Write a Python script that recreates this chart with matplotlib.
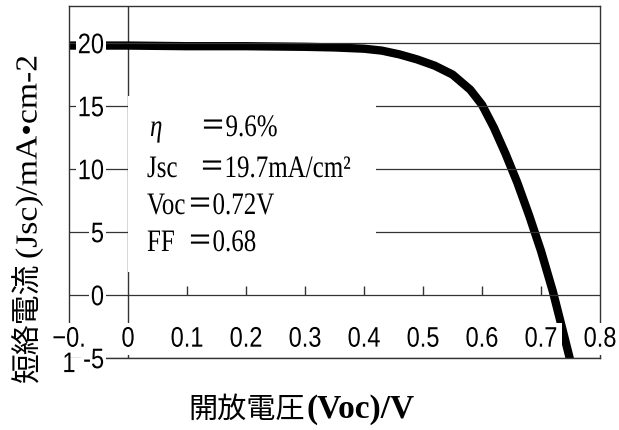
import matplotlib
matplotlib.use("Agg")
import matplotlib.pyplot as plt
from matplotlib import font_manager as fm
from matplotlib.patches import Rectangle
from matplotlib.patheffects import AbstractPathEffect
from matplotlib.transforms import Affine2D

# ---------------- data ----------------
voltage = [-0.10, 0.00, 0.10, 0.20, 0.30, 0.35, 0.40, 0.43, 0.46, 0.49, 0.52,
           0.55, 0.58, 0.60, 0.62, 0.64, 0.66, 0.68, 0.70, 0.72, 0.74, 0.755]
current = [19.8, 19.8, 19.75, 19.75, 19.7, 19.65, 19.55, 19.4, 19.1, 18.7, 18.2,
           17.5, 16.3, 15.1, 13.3, 11.2, 8.9, 6.3, 3.5, 0.3, -3.4, -6.2]

xticks = [-0.1, 0.0, 0.1, 0.2, 0.3, 0.4, 0.5, 0.6, 0.7, 0.8]
xtick_labels = ["\u22120.\n1", "0", "0.1", "0.2", "0.3", "0.4", "0.5", "0.6", "0.7", "0.8"]
yticks = [-5, 0, 5, 10, 15, 20]
ytick_labels = ["-5", "0", "5", "10", "15", "20"]

param_names = ["\u03b7", "Jsc", "Voc", "FF"]
param_values = ["\uff1d9.6%", "\uff1d19.7mA/cm\u00b2", "\uff1d0.72V", "\uff1d0.68"]

xlabel_jp = "開放電圧"
xlabel_en = "(Voc)/V"
ylabel_jp = "短絡電流"
ylabel_en = "(Jsc)/mA\u2022cm-2"


# ---------------- helpers ----------------
class Stretch(AbstractPathEffect):
    """Scale glyphs in their own text space (sx along text, sy across),
    about the glyph-space height cy (font units, 100 per em)."""
    def __init__(self, sx=1.0, sy=1.0, cy=0.0):
        super().__init__()
        self._t = Affine2D().translate(0, -cy).scale(sx, sy).translate(0, cy)

    def draw_path(self, renderer, gc, tpath, affine, rgbFace=None):
        renderer.draw_path(gc, tpath, self._t + affine, rgbFace)


_names = {f.name for f in fm.fontManager.ttflist}
if "Liberation Sans Narrow" in _names:
    tick_family, tick_size, tick_sy = "Liberation Sans Narrow", 20, 1.0
else:
    tick_family, tick_size, tick_sy = "Liberation Sans", 17, 1.2

W, H = 619, 431
def P(x, y):
    return (x / W, 1 - y / H)

GC = "#333333"

fig = plt.figure(figsize=(W / 100, H / 100), dpi=100)
L, R, T, B = 69, 600, 7, 359
ax = fig.add_axes([L / W, 1 - B / H, (R - L) / W, (B - T) / H])
ax.set_xlim(-0.1, 0.8)
ax.set_ylim(-5, 22.94)
ax.set_axisbelow(False)

for s in ax.spines.values():
    s.set_color(GC)
    s.set_linewidth(1.0)

ax.set_xticks(xticks, xtick_labels, fontfamily=[tick_family, "DejaVu Sans"],
              fontsize=tick_size)
ax.set_yticks(yticks, ytick_labels, fontfamily=[tick_family, "DejaVu Sans"],
              fontsize=tick_size)
ax.tick_params(axis="x", length=0, pad=-21.6, colors="black")
ax.tick_params(axis="y", length=0, pad=-25.2, colors="black")
ax.yaxis.grid(True, color=GC, linewidth=0.9)
ax.xaxis.grid(False)

tick_fx = [Stretch(1.0, tick_sy, 35.8)]
for lbl in ax.get_xticklabels():
    lbl.set_bbox(dict(facecolor="white", edgecolor="none", pad=3.5))
    lbl.set_path_effects(tick_fx)
for lbl in ax.get_yticklabels():
    lbl.set_bbox(dict(facecolor="white", edgecolor="none", pad=1.5))
    lbl.set_path_effects(tick_fx)

# y axis through x = 0 and small ticks on the y = 0 line
ax.axvline(0, color=GC, linewidth=1.0, zorder=2)
ax.vlines(xticks[2:-1], 0, 0.7, color=GC, linewidth=1.0, zorder=2)

# J-V curve
ax.plot(voltage, current, color="black", linewidth=6, solid_capstyle="butt",
        solid_joinstyle="round", zorder=2.2)

# white parameter box
ax.add_patch(Rectangle((0.0, 1.8), 0.42, 14.0, facecolor="white",
                       edgecolor="none", zorder=2.6))

name_x = [150, 147, 147, 147]
value_x = [200.5, 199.5, 187.5, 187.5]
base_y = [137, 178, 215, 252]
box_fx = [Stretch(1.0, 1.25)]
for i, (n, v) in enumerate(zip(param_names, param_values)):
    fig.text(*P(name_x[i], base_y[i]), n, family=["Liberation Serif", "Noto Sans CJK JP"],
             style="italic" if i == 0 else "normal", fontsize=18,
             va="baseline", ha="left", path_effects=box_fx)
    fig.text(*P(value_x[i], base_y[i]), v, family=["Liberation Serif", "Noto Sans CJK JP"],
             fontsize=18, va="baseline", ha="left", path_effects=box_fx)

# axis titles
fig.text(*P(305, 410), xlabel_jp, family=["Noto Sans CJK JP"], fontsize=21,
         ha="right", va="center")
fig.text(*P(306, 410), xlabel_en, family=["Liberation Serif"], weight="bold",
         fontsize=24, ha="left", va="center")

fig.text(*P(28, 383), ylabel_jp, family=["Noto Sans CJK JP"], fontsize=21.5,
         rotation=90, ha="center", va="bottom")
fig.text(*P(29, 260), ylabel_en, family=["Liberation Serif", "DejaVu Serif"], fontsize=22,
         rotation=90, ha="center", va="bottom", path_effects=[Stretch(1.1, 1.0)])

fig.savefig("out.png", dpi=100)
